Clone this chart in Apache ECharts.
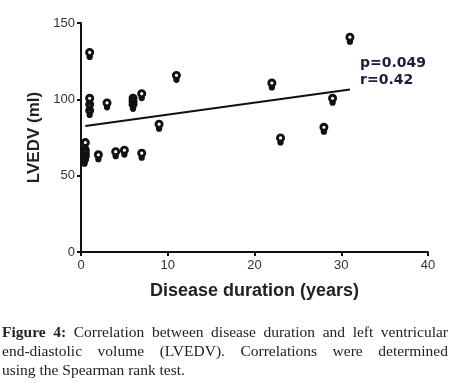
<!DOCTYPE html>
<html>
<head>
<meta charset="utf-8">
<script src="https://cdn.jsdelivr.net/npm/echarts@6/dist/echarts.min.js"></script>
<style>
  html, body { margin: 0; padding: 0; background: #fff; }
  #wrap { position: relative; width: 452px; height: 384px; }
  #chart { position: absolute; left: 0; top: 0; width: 452px; height: 384px; }
  #caption {
    position: absolute; left: 2px; top: 322px; width: 446px;
    font-family: 'Liberation Serif', serif; font-size: 15.5px; line-height: 19px;
    color: #222;
  }
  #caption div { text-align: justify; text-align-last: justify; white-space: nowrap; }
  #caption div.last { text-align-last: left; }
</style>
</head>
<body>
<div id="wrap">
  <div id="chart"></div>
  <div id="caption">
    <div><b>Figure 4:</b> Correlation between disease duration and left ventricular</div>
    <div>end-diastolic volume (LVEDV). Correlations were determined</div>
    <div class="last">using the Spearman rank test.</div>
  </div>
</div>
<script>
// disease duration (years) vs LVEDV (ml)
var duration = [1, 1, 1, 1, 3, 0.5, 0.5, 0.5, 0.5, 0.4, 2, 4, 5, 7, 6, 6, 6, 7, 9, 11, 22, 23, 28, 29, 31];
var lvedv    = [131, 101, 97, 93, 98, 72, 67, 65, 63, 61, 64, 66, 67, 65, 101, 99, 97, 104, 84, 116, 111, 75, 82, 101, 141];
var fitLine = [[0.5, 82.5], [31, 106.5]];
var xTicks = [0, 10, 20, 30, 40];
var yTicks = [0, 50, 100, 150];
var statsText = ['p=0.049', 'r=0.42'];

var points = duration.map(function (d, i) { return [d, lvedv[i]]; });

var pinPath = 'path://M0,5 A5,5 0 1,1 10,5 A5,5 0 1,1 0,5 Z M3.2,5 A1.8,1.8 0 1,0 6.8,5 A1.8,1.8 0 1,0 3.2,5 Z M1.5,8 L8.5,8 L8.5,10 A3.5,3.5 0 0,1 1.5,10 Z';

var myChart = echarts.init(document.getElementById('chart'));
var option = {
  animation: false,
  grid: { left: 81, right: 24, top: 23, bottom: 132 },
  xAxis: {
    type: 'value',
    min: xTicks[0], max: xTicks[xTicks.length - 1], interval: 10,
    name: 'Disease duration (years)',
    nameLocation: 'middle', nameGap: 30,
    nameTextStyle: { fontFamily: 'Liberation Sans', fontWeight: 'bold', fontSize: 18, color: '#222' },
    axisLine: { lineStyle: { color: '#111', width: 2 } },
    axisTick: { length: 4, lineStyle: { color: '#111', width: 2 } },
    axisLabel: { fontFamily: 'Liberation Sans', fontSize: 13, color: '#333', margin: 7 },
    splitLine: { show: false }
  },
  yAxis: {
    type: 'value',
    min: yTicks[0], max: yTicks[yTicks.length - 1], interval: 50,
    name: 'LVEDV (ml)',
    nameLocation: 'middle', nameGap: 35,
    nameTextStyle: { fontFamily: 'Liberation Sans', fontWeight: 'bold', fontSize: 17, color: '#222' },
    axisLine: { show: true, lineStyle: { color: '#111', width: 2 } },
    axisTick: { show: true, length: 4, lineStyle: { color: '#111', width: 2 } },
    axisLabel: { fontFamily: 'Liberation Sans', fontSize: 13, color: '#333', margin: 6 },
    splitLine: { show: false }
  },
  graphic: [
    { type: 'text', left: 360, top: 56, style: { text: statsText[0], font: 'bold 14px "DejaVu Sans"', fill: '#1c1c3c' } },
    { type: 'text', left: 360, top: 73, style: { text: statsText[1], font: 'bold 14px "DejaVu Sans"', fill: '#1c1c3c' } }
  ],
  series: [
    {
      type: 'line',
      data: fitLine,
      symbol: 'none',
      lineStyle: { color: '#111', width: 2 },
      z: 1
    },
    {
      type: 'scatter',
      data: points,
      symbol: pinPath,
      symbolSize: [9, 12],
      symbolOffset: [0, 2],
      itemStyle: { color: '#111', opacity: 1 },
      z: 2
    }
  ]
};
myChart.setOption(option);
</script>
</body>
</html>
